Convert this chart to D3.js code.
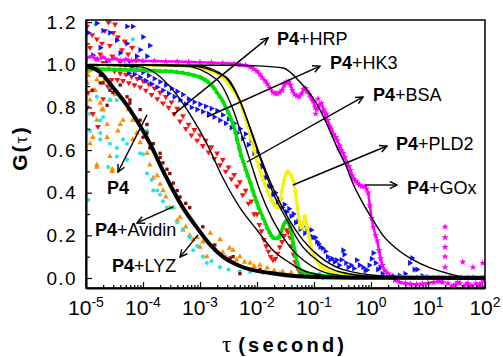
<!DOCTYPE html>
<html>
<head>
<meta charset="utf-8">
<script src="https://cdn.jsdelivr.net/npm/d3@7"></script>
<style>
  body { margin: 0; background: #fff; }
  svg { display: block; font-family: "Liberation Sans", Arial, sans-serif; }
</style>
</head>
<body>
<svg id="chart" width="503" height="357"></svg>
<script>
// values are [log10(tau), G(tau)]

const decades = [-5, -4, -3, -2, -1, 0, 1, 2];
const minorSteps = [2, 3, 4, 5, 6, 7, 8, 9];
const gTicks = [0, 0.2, 0.4, 0.6, 0.8, 1.0, 1.2];
const gMinor = [0.1, 0.3, 0.5, 0.7, 0.9, 1.1];

// P4 + HRP (red)
const hrpData = [
  [-4.98,1.18],[-4.93,1.08],[-4.89,1.14],[-4.84,1.03],[-4.81,1.12],[-4.75,1.05],[-4.70,1.01],[-4.67,1.16],
  [-4.61,1.20],[-4.58,1.09],[-4.54,1.04],[-4.49,1.19],[-4.44,1.13],[-4.37,1.07],[-4.32,1.11],[-4.26,1.05],
  [-4.19,1.08],[-4.12,1.02],[-4.90,1.00],[-4.72,1.10],[-4.52,1.15],[-4.40,1.01],
  [-4.98,0.80],[-4.96,0.87],[-4.88,0.77],[-4.79,0.71],[-4.70,0.84],[-4.62,0.90],[-4.55,0.93],
  [-4.5,.97],[-4.45,.93],[-4.4,.96],[-4.35,.925],[-4.3,.955],[-4.25,.915],[-4.2,.945],[-4.15,.905],
  [-4.1,.935],[-4.05,.895],[-4.0,.925],[-3.95,.88],[-3.9,.91],[-3.85,.86],[-3.8,.89],[-3.75,.84],
  [-3.7,.87],[-3.65,.82],[-3.6,.85],[-3.55,.80],[-3.5,.825],[-3.45,.77],[-3.4,.795],[-3.35,.735],
  [-3.3,.76],[-3.25,.70],[-3.2,.72],[-3.15,.67],[-3.1,.695],[-3.05,.645],[-3.0,.67],[-2.95,.62],
  [-2.9,.645],[-2.85,.59],[-2.8,.615],[-2.75,.56],[-2.7,.585],[-2.65,.53],[-2.6,.555],[-2.55,.50],
  [-2.5,.52],[-2.45,.465],[-2.4,.485],[-2.35,.43],[-2.3,.45],[-2.25,.39],[-2.2,.41],[-2.15,.35],
  [-2.1,.36],[-2.05,.30],[-2.0,.30],[-1.96,.25],[-1.92,.22],[-1.88,.18],[-1.84,.15],[-1.8,.125],
  [-1.76,.10],[-1.72,.085],[-1.68,.09],[-1.64,.115],[-1.6,.145],[-1.56,.17],[-1.52,.20],[-1.48,.225],
  [-1.45,.215],[-1.42,.19],[-1.39,.15],[-1.36,.11],[-1.33,.075],[-1.3,.05],[-1.25,.03],[-1.2,.022],
  [-1.12,.015],[-1.05,.01],[-0.95,.008],[-0.85,.005]
];

// P4 + HK3 (blue)
const hk3Data = [
  [-4.81,1.195],[-4.58,1.15],[-4.28,1.18],[-4.18,1.18],[-4.75,1.08],[-4.46,1.115],[-4.28,1.10],[-4.05,1.07],
  [-4.00,1.13],[-4.11,1.04],[-4.40,1.055],[-4.96,1.15],[-4.63,1.01],[-4.23,1.01],[-3.93,1.04],[-3.88,1.09],
  [-4.88,1.045],[-4.70,1.16],
  [-4.3,1.0],[-4.25,.96],[-4.2,.99],[-4.15,.955],[-4.1,.975],[-4.05,.94],[-4.0,.965],[-3.95,.925],
  [-3.9,.95],[-3.85,.91],[-3.8,.935],[-3.75,.895],[-3.7,.92],[-3.65,.88],[-3.6,.905],[-3.55,.865],
  [-3.5,.89],[-3.45,.85],[-3.4,.875],[-3.35,.835],[-3.3,.86],[-3.25,.815],[-3.2,.84],[-3.15,.80],
  [-3.1,.825],[-3.05,.79],[-3.0,.815],[-2.95,.78],[-2.9,.805],[-2.85,.77],[-2.8,.795],[-2.75,.755],
  [-2.7,.785],[-2.65,.74],[-2.6,.765],[-2.55,.725],[-2.5,.745],[-2.45,.705],[-2.4,.725],[-2.35,.68],
  [-2.3,.70],[-2.25,.655],[-2.2,.675],[-2.15,.625],[-2.1,.64],[-2.05,.585],[-2.0,.59],[-1.96,.53],
  [-1.92,.52],[-1.88,.47],[-1.84,.47],[-1.8,.43],[-1.76,.43],[-1.72,.39],[-1.68,.40],[-1.64,.355],
  [-1.6,.37],[-1.56,.33],[-1.52,.345],[-1.48,.31],[-1.44,.325],[-1.4,.29],[-1.36,.30],[-1.32,.26],
  [-1.28,.265],[-1.24,.23],[-1.2,.24],[-1.16,.21],[-1.12,.225],[-1.08,.20],[-1.05,.225],[-1.02,.19],
  [-0.98,.19],[-0.95,.17],[-0.92,.16],[-0.89,.145],[-0.85,.14],[-0.8,.125],[-0.76,.10],[-0.72,.085],
  [-0.68,.09],[-0.64,.075],[-0.6,.084],[-0.56,.06],[-0.52,.085],[-0.49,.13],[-0.47,.11],[-0.44,.07],
  [-0.4,.05],[-0.35,.06],[-0.3,.045],[-0.25,.084],[-0.2,.06],[-0.14,.05],[-0.1,.035],[-0.07,.037],
  [-0.03,.06],[0.01,.09],[0.04,.117],[0.08,.07],[0.12,.04],[0.16,.05],[0.2,.02],[0.3,.01],
  [0.4,.008],[0.5,.012],[0.6,.02],[0.68,.07],[0.72,.094],[0.76,.04],[0.81,.04],[0.9,.01],
  [1.0,.005],[1.2,.003],[1.4,.004],[1.6,.002],[1.8,.003],[2.0,.002]
];

// P4 + BSA (green)
const bsaData = [
  [-5,.985],[-4.9,.98],[-4.8,.983],[-4.7,.978],[-4.6,.98],[-4.5,.977],[-4.4,.978],[-4.3,.975],
  [-4.2,.976],[-4.1,.974],[-4.0,.975],[-3.9,.972],[-3.8,.972],[-3.7,.97],[-3.6,.97],[-3.5,.968],
  [-3.4,.965],[-3.3,.962],[-3.2,.957],[-3.1,.95],[-3.0,.942],[-2.95,.935],[-2.9,.928],[-2.85,.918],
  [-2.8,.905],[-2.75,.89],[-2.7,.87],[-2.65,.85],[-2.6,.83],[-2.55,.80],[-2.5,.775],[-2.46,.75],
  [-2.42,.72],[-2.38,.685],[-2.35,.65],[-2.31,.61],[-2.28,.575],[-2.24,.545],[-2.2,.51],[-2.16,.48],
  [-2.12,.45],[-2.08,.415],[-2.05,.39],[-2.01,.36],[-1.97,.33],[-1.93,.305],[-1.89,.28],[-1.85,.255],
  [-1.82,.235],[-1.78,.215],[-1.75,.20],[-1.72,.19],[-1.69,.185],[-1.65,.185],[-1.62,.19],[-1.59,.205],
  [-1.57,.22],[-1.54,.245],[-1.51,.26],[-1.48,.268],[-1.45,.26],[-1.42,.24],[-1.39,.20],[-1.37,.17],
  [-1.34,.13],[-1.32,.10],[-1.29,.07],[-1.27,.05],[-1.23,.035],[-1.2,.03],[-1.15,.025],[-1.1,.02],
  [-1.0,.016],[-0.9,.012],[-0.75,.01],[-0.6,.008],[-0.45,.006],[-0.3,.005],[-0.1,.004],[0.2,.004],
  [0.5,.003],[0.8,.003],[1.1,.003],[1.4,.003],[1.7,.003],[2.0,.003]
];

// P4 + PLD2 (yellow)
const pld2Data = [
  [-5,1.0],[-4.6,1.0],[-4.2,1.0],[-3.8,.998],[-3.4,.995],[-3.1,.99],[-2.9,.98],[-2.75,.965],
  [-2.6,.94],[-2.5,.91],[-2.45,.895],[-2.4,.875],[-2.35,.855],[-2.3,.83],[-2.25,.79],[-2.2,.745],
  [-2.16,.71],[-2.12,.67],[-2.08,.635],[-2.05,.60],[-2.02,.575],[-2.0,.55],[-1.97,.525],[-1.94,.50],
  [-1.91,.475],[-1.89,.46],[-1.86,.44],[-1.82,.41],[-1.79,.39],[-1.75,.37],[-1.72,.355],[-1.68,.34],
  [-1.65,.33],[-1.62,.33],[-1.6,.35],[-1.58,.38],[-1.56,.41],[-1.54,.44],[-1.52,.465],[-1.5,.48],
  [-1.48,.495],[-1.46,.50],[-1.44,.495],[-1.41,.485],[-1.39,.475],[-1.37,.46],[-1.35,.44],[-1.33,.41],
  [-1.31,.37],[-1.29,.33],[-1.27,.29],[-1.25,.25],[-1.22,.235],[-1.2,.24],[-1.18,.265],[-1.16,.29],
  [-1.14,.27],[-1.12,.24],[-1.1,.21],[-1.08,.185],[-1.06,.16],[-1.04,.13],[-1.0,.11],[-0.97,.09],
  [-0.93,.075],[-0.89,.06],[-0.85,.05],[-0.8,.04],[-0.7,.03],[-0.6,.02],[-0.45,.014],[-0.3,.01],
  [0,.007],[0.3,.005],[0.7,.004],[1.1,.003],[1.5,.003],[2.0,.003]
];

// P4 + GOx (magenta), continuous trace and isolated points
const goxTrace = [
  [-5,1.03],[-4.9,1.04],[-4.8,1.025],[-4.7,1.035],[-4.6,1.02],[-4.5,1.03],[-4.4,1.02],[-4.3,1.025],
  [-4.2,1.018],[-4.1,1.022],[-4.0,1.018],[-3.8,1.018],[-3.6,1.015],[-3.4,1.015],[-3.2,1.013],[-3.0,1.012],
  [-2.8,1.01],[-2.6,1.008],[-2.4,1.005],[-2.3,1.0],[-2.2,.998],[-2.12,.99],[-2.06,.98],[-2.0,.97],
  [-1.95,.955],[-1.91,.94],[-1.86,.925],[-1.82,.91],[-1.77,.89],[-1.72,.87],[-1.68,.865],[-1.65,.865],
  [-1.6,.87],[-1.56,.88],[-1.52,.905],[-1.48,.92],[-1.44,.92],[-1.41,.905],[-1.38,.88],[-1.34,.86],
  [-1.3,.855],[-1.26,.85],[-1.22,.865],[-1.18,.885],[-1.15,.89],[-1.12,.875],[-1.08,.86],[-1.05,.845],
  [-1.02,.83],[-0.98,.80],[-0.95,.79],[-0.91,.81],[-0.87,.82],[-0.83,.79],[-0.79,.75],[-0.76,.74],
  [-0.72,.71],[-0.69,.69],[-0.66,.675],[-0.62,.66],[-0.59,.645],[-0.55,.62],[-0.52,.60],[-0.49,.585],
  [-0.46,.565],[-0.42,.54],[-0.39,.525],[-0.36,.505],[-0.33,.48],[-0.3,.465],[-0.27,.455],[-0.24,.445],
  [-0.2,.435],[-0.16,.43],[-0.12,.43],[-0.08,.42],[-0.05,.40],[-0.02,.34],[0.01,.28],[0.04,.24],
  [0.08,.20],[0.11,.175],[0.14,.13],[0.17,.09],[0.2,.06],[0.24,.035],[0.3,.02],[0.36,.005],
  [0.42,-.01],[0.5,-.02],[0.6,-.025],[0.7,-.028],[0.8,-.03],[0.9,-.027],[1.0,-.024],[1.1,-.02],
  [1.2,-.016],[1.26,-.02]
];
const goxScatter = [
  [1.30,.24],[1.30,.19],[1.30,.145],[1.30,.10],[1.30,.05],[1.35,-.025],[1.42,-.04],[1.49,-.03],
  [1.56,-.025],[1.61,.075],[1.67,-.03],[1.74,-.04],[1.79,.05],[1.84,-.025],[1.91,-.03],[1.96,.07],
  [1.98,-.015],[1.45,-.035],[1.52,-.02],[1.63,-.04],[1.70,-.025],[1.77,-.035],[1.88,-.04],[1.94,-.025],
  [-0.97,.77],[-0.84,.78],[-0.70,.70],[-0.57,.61],[-0.93,.84],[-0.78,.77]
];

// P4 alone / P4 + Avidin / P4 + LYZ (orange, cyan, dark red)
const p4Data = [
  [-4.98,.915],[-4.96,.95],[-4.93,.835],[-4.93,.975],[-4.93,.63],[-4.88,.66],[-4.84,.88],[-4.81,.74],
  [-4.81,.53],[-4.75,.82],[-4.72,.79],[-4.67,.93],[-4.63,.66],[-4.58,.57],[-4.54,.50],[-4.49,.86],
  [-4.44,.69],[-4.35,.74],[-4.26,.79],[-4.18,.65],[-4.96,.97],[-4.81,.93],[-4.88,.88],[-4.58,.835],
  [-4.70,.79],[-4.63,.72],[-4.40,.72],[-4.81,.52],[-4.54,.51],[-4.18,.74],[-4.11,.68],[-4.05,.635],
  [-3.93,.585],[-3.88,.53],[-3.82,.47],[-3.75,.48],[-3.70,.44],[-3.65,.41],[-3.60,.38],[-3.53,.33],
  [-3.47,.33],[-3.40,.27],[-3.35,.285],[-3.30,.225],[-3.25,.24],[-3.18,.20],[-3.12,.18],[-3.05,.19],
  [-3.00,.145],[-2.95,.17],[-2.88,.10],[-2.82,.21],[-2.78,.15],[-2.72,.13],[-2.65,.18],[-2.60,.12],
  [-2.55,.10],[-2.48,.14],[-2.42,.13],[-2.36,.085],[-2.30,.10],[-2.22,.075],[-2.12,.07],[-2.05,.055],
  [-1.95,.06],[-1.82,.047],[-1.70,.035],[-1.55,.03],[-1.40,.025],[-1.25,.023],[-1.10,.018],[-0.90,.015],
  [-0.67,.014],[-0.45,.01],[-0.20,.008]
];
const avidinData = [
  [-4.96,.366],[-4.93,.77],[-4.75,.74],[-4.93,.69],[-4.58,.835],[-4.46,.61],[-4.35,.65],[-3.93,.69],
  [-3.88,.63],[-4.75,.65],[-4.84,1.19],[-4.58,1.20],[-4.18,1.12],[-4.58,.89],[-4.46,.835],[-4.81,.85],
  [-4.70,.755],[-4.75,.68],[-4.58,.63],[-4.28,.63],[-4.28,.555],[-4.46,.57],[-4.61,.52],[-4.05,.585],
  [-3.93,.49],[-3.82,.41],[-3.75,.41],[-3.65,.36],[-3.58,.33],[-3.47,.33],[-3.40,.26],[-3.30,.23],
  [-3.18,.19],[-3.12,.13],[-3.05,.15],[-2.95,.10],[-2.88,.07],[-2.80,.08],[-2.65,.05],[-2.50,.04],
  [-2.30,.03],[-2.12,.028],[-1.90,.025],[-1.60,.023],[-1.25,.023],[-0.90,.02],[-0.60,.015],[-0.30,.01],
  [-4.00,.58],[-3.85,.46],[-3.70,.39]
];
const lyzData = [
  [-4.84,1.0],[-4.75,.95],[-4.70,.915],[-4.53,.87],[-4.40,.905],[-4.28,.85],[-4.23,.82],[-4.05,.74],
  [-3.93,.68],[-3.88,.61],[-3.70,.585],[-3.58,.51],[-3.47,.445],[-3.35,.38],[-3.18,.33],[-2.95,.24],
  [-2.74,.155],[-2.47,.094],[-1.95,.04],[-4.63,.81],[-4.89,.88],[-4.75,.915],[-4.58,.88],[-4.23,.835],
  [-4.05,.79],[-3.93,.72],[-4.00,.66],[-3.82,.63],[-3.70,.565],[-3.65,.54],[-2.42,.10],[-2.30,.02],
  [-3.53,.49],[-3.40,.41],[-3.25,.35]
];

// fitted curves (black)
const fitFast = [[-5,.995],[-4.75,.965],[-4.53,.895],[-4.23,.79],[-4.0,.69],[-3.82,.60],[-3.70,.53],
  [-3.49,.42],[-3.30,.33],[-3.05,.235],[-2.82,.155],[-2.60,.10],[-2.30,.056],[-1.77,.023],[-1.12,.006],[0,.001],[2,0]];
const fitHrp = [[-5,1.0],[-4.05,.99],[-3.47,.88],[-3.18,.77],[-2.88,.63],[-2.6,.47],[-2.3,.33],[-2.0,.225],
  [-1.72,.13],[-1.42,.07],[-1.12,.028],[-0.54,.005],[2,0]];
const fitBsa = [[-5,1.0],[-3.3,.995],[-2.7,.93],[-2.42,.79],[-2.25,.655],[-2.12,.55],[-1.95,.41],[-1.72,.27],
  [-1.42,.145],[-1.12,.07],[-0.77,.023],[-0.2,.005],[2,0]];
const fitPld2 = [[-5,1.0],[-3.05,.995],[-2.53,.94],[-2.25,.80],[-2.07,.66],[-1.89,.52],[-1.72,.40],[-1.47,.27],
  [-1.25,.165],[-0.95,.084],[-0.54,.028],[0.2,.005],[2,0]];
const fitHk3 = [[-5,1.0],[-3.2,.995],[-2.6,.95],[-2.3,.83],[-2.1,.69],[-1.9,.54],[-1.7,.41],[-1.45,.28],
  [-1.2,.18],[-0.9,.10],[-0.5,.04],[0.2,.01],[2,0]];
const fitGox = [[-5,1.0],[-2.5,.998],[-2.0,.995],[-1.54,.985],[-1.25,.92],[-0.95,.815],[-0.77,.72],[-0.6,.615],
  [-0.42,.515],[-0.32,.445],[-0.14,.35],[0.04,.27],[0.21,.20],[0.46,.135],[0.74,.085],[1.04,.047],
  [1.33,.023],[1.61,.005],[2,0]];

// annotation labels
const labelBold = "P4";
const labelNames = ["+HRP", "+HK3", "+BSA", "+PLD2", "+GOx", "", "+Avidin", "+LYZ"];

// ---------------------------------------------------------------
const W = 503, H = 357;
const M = {top: 20, right: 18, bottom: 69, left: 86};

const svg = d3.select("#chart");

const x = d3.scaleLog().domain([1e-5, 1e2]).range([M.left, W - M.right]);
const y = d3.scaleLinear().domain([-0.047, 1.21]).range([H - M.bottom, M.top]);
const px = d => x(Math.pow(10, d[0]));
const py = d => y(d[1]);

svg.append("defs").append("clipPath").attr("id", "plotClip")
  .append("rect")
  .attr("x", M.left).attr("y", M.top)
  .attr("width", W - M.left - M.right).attr("height", H - M.top - M.bottom);

svg.select("defs").append("marker")
  .attr("id", "arrow")
  .attr("viewBox", "0 0 10 10")
  .attr("refX", 9).attr("refY", 5)
  .attr("markerWidth", 9).attr("markerHeight", 9)
  .attr("markerUnits", "userSpaceOnUse")
  .attr("orient", "auto")
  .append("path")
  .attr("d", "M1,1 L9,5 L1,9")
  .attr("fill", "none").attr("stroke", "#000").attr("stroke-width", 1.6);

const plot = svg.append("g").attr("clip-path", "url(#plotClip)");

const line = d3.line().x(px).y(py);
const smooth = d3.line().x(px).y(py).curve(d3.curveMonotoneX);

function scatter(data, color, type, size, rotate) {
  plot.append("g").selectAll("path")
    .data(data)
    .join("path")
    .attr("transform", d => `translate(${px(d)},${py(d)}) rotate(${rotate})`)
    .attr("d", d3.symbol(type, size))
    .attr("fill", color);
}

function trace(data, color, width) {
  plot.append("path")
    .datum(data)
    .attr("d", line)
    .attr("fill", "none")
    .attr("stroke", color)
    .attr("stroke-width", width)
    .attr("stroke-linejoin", "round");
}

// data points
scatter(p4Data, "#ff8c00", d3.symbolTriangle, 14, 0);
scatter(avidinData, "#22e6e6", d3.symbolCircle, 13, 0);
scatter(lyzData, "#8b0a0a", d3.symbolSquare, 11, 0);
scatter(hrpData, "#ff1010", d3.symbolTriangle, 15, 180);
scatter(hk3Data, "#1010ff", d3.symbolTriangle, 15, 90);

trace(goxTrace, "#ff00ff", 2.5);
scatter(goxTrace, "#ff00ff", d3.symbolStar, 16, 0);
scatter(goxScatter, "#ff00ff", d3.symbolStar, 16, 0);

trace(pld2Data, "#f5f500", 3);
scatter(pld2Data, "#f5f500", d3.symbolTriangle, 11, 0);

trace(bsaData, "#00e000", 3.5);
scatter(bsaData, "#00e000", d3.symbolTriangle, 12, 0);

// fits
[fitHrp, fitBsa, fitPld2, fitHk3, fitGox].forEach(f => {
  plot.append("path").datum(f)
    .attr("d", smooth)
    .attr("fill", "none")
    .attr("stroke", "#000")
    .attr("stroke-width", 1.4);
});
plot.append("path").datum(fitFast)
  .attr("d", smooth)
  .attr("fill", "none")
  .attr("stroke", "#000")
  .attr("stroke-width", 4);

// frame
svg.append("rect")
  .attr("x", M.left).attr("y", M.top)
  .attr("width", W - M.left - M.right).attr("height", H - M.top - M.bottom)
  .attr("fill", "none").attr("stroke", "#000").attr("stroke-width", 1.5);

// x axis
const minorTaus = decades.slice(0, -1).flatMap(e => minorSteps.map(k => k * Math.pow(10, e)));
const xMinor = svg.append("g")
  .attr("transform", `translate(0,${H - M.bottom})`)
  .call(d3.axisBottom(x).tickValues(minorTaus).tickSize(-3).tickSizeOuter(0).tickFormat(""));
xMinor.select(".domain").remove();

const xAxis = svg.append("g")
  .attr("transform", `translate(0,${H - M.bottom})`)
  .call(d3.axisBottom(x).tickValues(decades.map(e => Math.pow(10, e))).tickSize(-6).tickSizeOuter(0).tickFormat(""));
xAxis.select(".domain").attr("stroke-width", 2);
svg.selectAll(".tick line").attr("stroke-width", 1.2);

svg.append("g").selectAll("text")
  .data(decades)
  .join("text")
  .attr("x", e => x(Math.pow(10, e)))
  .attr("y", 315)
  .attr("text-anchor", "middle")
  .attr("font-size", 21)
  .attr("fill", "#000")
  .each(function (e) {
    const t = d3.select(this);
    t.append("tspan").text("10");
    t.append("tspan").attr("dy", -8).attr("font-size", 14).text(String(e));
  });

// y axis
const yMinor = svg.append("g")
  .attr("transform", `translate(${M.left},0)`)
  .call(d3.axisLeft(y).tickValues(gMinor).tickSize(-4).tickSizeOuter(0).tickFormat(""));
yMinor.select(".domain").remove();

const yAxis = svg.append("g")
  .attr("transform", `translate(${M.left},0)`)
  .call(d3.axisLeft(y).tickValues(gTicks).tickSize(-6).tickSizeOuter(0).tickPadding(9).tickFormat(d3.format(".1f")));
yAxis.select(".domain").attr("stroke-width", 2);
yAxis.selectAll("text")
  .attr("font-size", 19)
  .attr("letter-spacing", 1.4)
  .attr("fill", "#000")
  .attr("font-family", "'Liberation Sans', Arial, sans-serif");
svg.selectAll(".tick line").attr("stroke-width", 1.2);

// axis titles
const xt = svg.append("text").attr("x", 222).attr("y", 352).attr("fill", "#000");
xt.append("tspan").attr("font-family", "'Liberation Serif', 'Times New Roman', serif").attr("font-size", 23).text("τ");
xt.append("tspan").attr("dx", 7).attr("font-weight", "bold").attr("font-size", 20)
  .attr("letter-spacing", 3.2).text("(second)");

const yt = svg.append("text")
  .attr("transform", "translate(27,148) rotate(-90)")
  .attr("text-anchor", "middle")
  .attr("font-weight", "bold")
  .attr("font-size", 21)
  .attr("letter-spacing", 2)
  .attr("fill", "#000");
yt.append("tspan").text("G(");
yt.append("tspan").attr("font-family", "'Liberation Serif', serif").attr("font-weight", "normal")
  .attr("font-size", 18).text("τ");
yt.append("tspan").text(")");

// annotations: arrow from data to label, positions in data units
const notes = [
  {from: [-3.474, 0.765], to: [-1.807, 1.126], at: [-1.649, 1.095]},
  {from: [-2.877, 0.755], to: [-0.895, 0.994], at: [-0.719, 0.978]},
  {from: [-2.175, 0.544], to: [-0.140, 0.849], at: [0.035, 0.828]},
  {from: [-1.368, 0.436], to: [0.281, 0.619], at: [0.439, 0.598]},
  {from: [-0.105, 0.436], to: [0.456, 0.436], at: [0.632, 0.392]},
  {from: [-3.930, 0.765], to: [-4.439, 0.497], at: [-4.632, 0.392]},
  {from: [-3.474, 0.333], to: [-4.105, 0.258], at: [-4.842, 0.195]},
  {from: [-3.035, 0.202], to: [-3.351, 0.098], at: [-4.544, 0.030]}
];

const ann = svg.append("g");
ann.selectAll("line")
  .data(notes)
  .join("line")
  .attr("x1", d => px(d.from)).attr("y1", d => py(d.from))
  .attr("x2", d => px(d.to)).attr("y2", d => py(d.to))
  .attr("stroke", "#000").attr("stroke-width", 1.4)
  .attr("marker-end", "url(#arrow)");

ann.selectAll("text")
  .data(notes)
  .join("text")
  .attr("x", d => px(d.at)).attr("y", d => py(d.at))
  .attr("font-size", 18)
  .attr("fill", "#000")
  .each(function (d, i) {
    const t = d3.select(this);
    t.append("tspan").attr("font-weight", "bold").text(labelBold);
    if (labelNames[i]) t.append("tspan").text(labelNames[i]);
  });
</script>
</body>
</html>
